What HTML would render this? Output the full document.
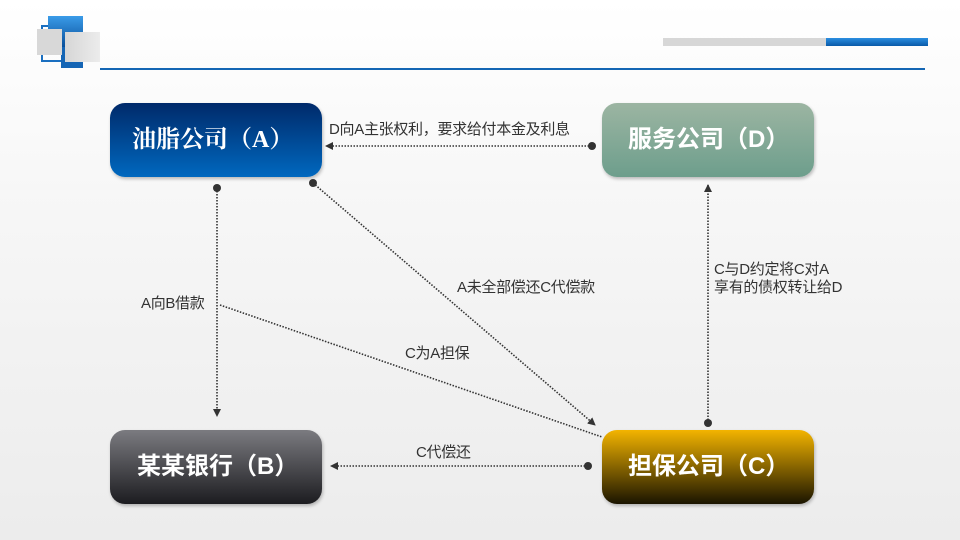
<!DOCTYPE html>
<html><head><meta charset="utf-8"><style>
body{margin:0;width:960px;height:540px;overflow:hidden;background:linear-gradient(#ffffff 0%,#f6f6f6 40%,#ececec 100%);position:relative;font-family:"Liberation Sans","Noto Sans CJK SC",sans-serif}
.a{position:absolute}
.box{position:absolute;width:212px;height:74px;border-radius:15px;color:#fff;font-size:24px;font-weight:bold;line-height:74px;box-sizing:border-box;padding-left:22px;box-shadow:1px 2px 3px rgba(0,0,0,.25)}
.lbl{position:absolute;font-size:15px;color:#333;white-space:nowrap;line-height:18px;letter-spacing:-0.3px}
</style></head><body>
<div class="a" style="left:41px;top:25px;width:18px;height:33px;border:2px solid #1a6fc0"></div>
<div class="a" style="left:61px;top:45px;width:22px;height:23px;background:#1565b5"></div>
<div class="a" style="left:48px;top:16px;width:35px;height:31px;background:linear-gradient(#3a9be8,#0a4f9a)"></div>
<div class="a" style="left:37px;top:29px;width:25px;height:26px;background:#d8d8d8"></div>
<div class="a" style="left:65px;top:32px;width:35px;height:30px;background:linear-gradient(90deg,#d6d6d6,#ececec)"></div>
<div class="a" style="left:100px;top:68px;width:825px;height:2px;background:#1466b4"></div>
<div class="a" style="left:663px;top:38px;width:163px;height:8px;background:#d7d7d7"></div>
<div class="a" style="left:826px;top:38px;width:102px;height:8px;background:linear-gradient(#2b8ee0,#0a5aa8)"></div>

<div class="box" style="left:110px;top:103px;background:linear-gradient(#002a6a,#0068bf);font-family:'Liberation Serif','Noto Serif CJK SC',serif">油脂公司（A）</div>
<div class="box" style="left:602px;top:103px;background:linear-gradient(#9cb5a2,#6d9e8c);padding-left:26px">服务公司（D）</div>
<div class="box" style="left:110px;top:430px;background:linear-gradient(#7b7b80,#1c1c20);padding-left:27px">某某银行（B）</div>
<div class="box" style="left:602px;top:430px;background:linear-gradient(#f3b400,#1a1400);padding-left:26px">担保公司（C）</div>

<svg class="a" style="left:0;top:0" width="960" height="540">
<defs><marker id="ar" markerWidth="8" markerHeight="8" refX="7" refY="4" orient="auto" markerUnits="userSpaceOnUse"><path d="M0,0 L8,4 L0,8z" fill="#333"/></marker></defs>
<g stroke="#333" stroke-width="1.6" stroke-dasharray="1.5,1.5" fill="none">
<line x1="592" y1="146" x2="326" y2="146" marker-end="url(#ar)"/>
<line x1="217" y1="188" x2="217" y2="416" marker-end="url(#ar)"/>
<line x1="313" y1="183" x2="595" y2="425" marker-end="url(#ar)"/>
<line x1="220" y1="305" x2="602" y2="437"/>
<line x1="708" y1="423" x2="708" y2="185" marker-end="url(#ar)"/>
<line x1="588" y1="466" x2="331" y2="466" marker-end="url(#ar)"/>
</g>
<g fill="#333"><circle cx="592" cy="146" r="4"/><circle cx="217" cy="188" r="4"/><circle cx="313" cy="183" r="4"/><circle cx="708" cy="423" r="4"/><circle cx="588" cy="466" r="4"/></g>
</svg>
<div class="lbl" style="left:329px;top:121px">D向A主张权利，要求给付本金及利息</div>
<div class="lbl" style="left:457px;top:279px">A未全部偿还C代偿款</div>
<div class="lbl" style="left:141px;top:295px">A向B借款</div>
<div class="lbl" style="left:405px;top:345px">C为A担保</div>
<div class="lbl" style="left:714px;top:261px">C与D约定将C对A</div>
<div class="lbl" style="left:714px;top:279px">享有的债权转让给D</div>
<div class="lbl" style="left:416px;top:444px">C代偿还</div>
</body></html>
